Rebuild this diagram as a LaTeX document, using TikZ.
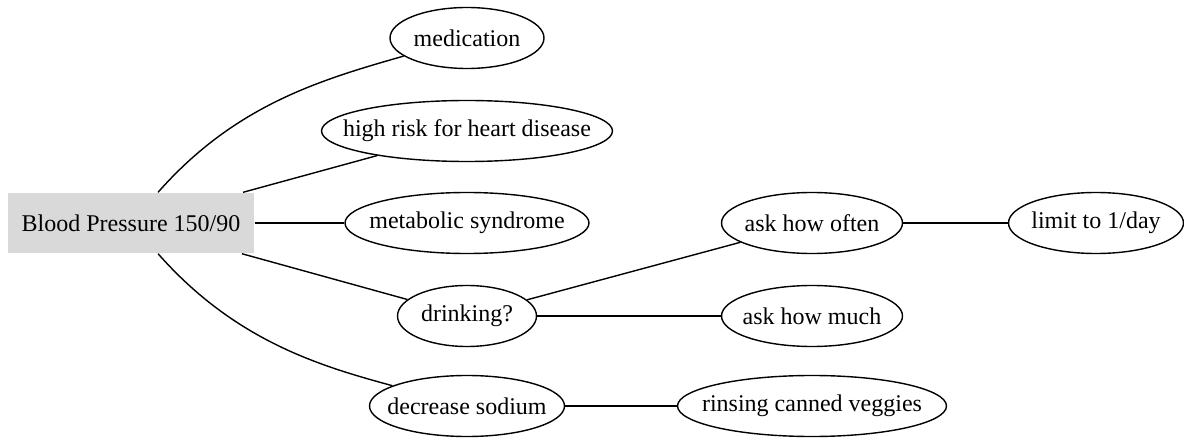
\documentclass[tikz,border=0pt]{standalone}
\usepackage{fontspec}
\setmainfont{Liberation Serif}
\usetikzlibrary{shapes.geometric}
\tikzset{
  racine/.style={fill=black!15, inner sep=0pt, minimum width=246pt, minimum height=60pt},
  bulle/.style={draw, ellipse, inner sep=0pt, minimum height=61pt,
    execute at begin node={\hbox to 0pt\bgroup\hss}, execute at end node={\hss\egroup}},
}
\begin{document}
\begin{tikzpicture}[x=1pt, y=-1pt, font=\fontsize{24}{28}\selectfont, line width=1.4pt]
    % cadre
    \useasboundingbox (0,0) rectangle (1184,441);
    % noeuds
    \node[racine] (bp) at (131,223) {Blood Pressure 150/90};
    \node[bulle, minimum width=154pt] (medic) at (467,38) {medication};
    \node[bulle, minimum width=291pt] (risque) at (467,131) {high risk for heart disease};
    \node[bulle, minimum width=244pt] (metab) at (467,223) {metabolic syndrome};
    \node[bulle, minimum width=139pt] (boire) at (467,316) {drinking?};
    \node[bulle, minimum width=195pt] (sodium) at (467,406) {decrease sodium};
    \node[bulle, minimum width=181pt] (souvent) at (812,223) {ask how often};
    \node[bulle, minimum width=181pt] (quantite) at (812,316) {ask how much};
    \node[bulle, minimum width=269pt] (rincer) at (812,406) {rinsing canned veggies};
    \node[bulle, minimum width=175pt] (limite) at (1096,223) {limit to 1/day};
    % liens
    \draw (bp) .. controls (235,105) and (320,80) .. (medic);
    \draw (bp) .. controls (235,341) and (320,366) .. (sodium);
    \draw (bp) edge (risque) (bp) edge (metab) (bp) edge (boire)
          (boire) edge (souvent) (boire) edge (quantite)
          (souvent) edge (limite) (sodium) edge (rincer);
\end{tikzpicture}
\end{document}
